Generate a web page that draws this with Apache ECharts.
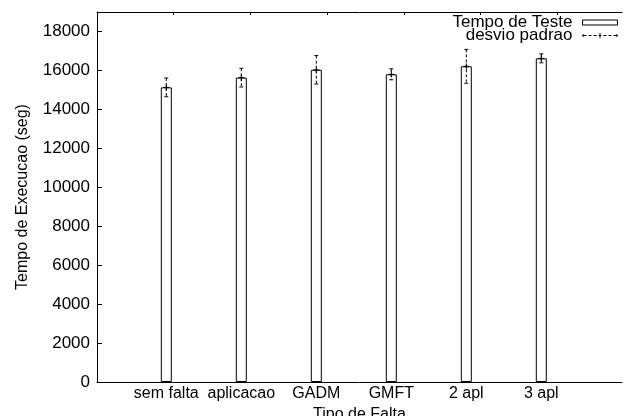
<!DOCTYPE html>
<html>
<head>
<meta charset="utf-8">
<script src="https://cdn.jsdelivr.net/npm/echarts@6/dist/echarts.min.js"></script>
<style>html,body{margin:0;padding:0;background:#fff}#c{width:624px;height:416px}</style>
</head>
<body>
<div id="c"></div>
<script>
const categories = ['sem falta', 'aplicacao', 'GADM', 'GMFT', '2 apl', '3 apl'];
const tempo = [15130, 15630, 16030, 15800, 16210, 16620];
const desvio = [480, 480, 730, 280, 870, 230];
const yTicks = [0, 2000, 4000, 6000, 8000, 10000, 12000, 14000, 16000, 18000];
const topTicks = [1, 2, 3, 4, 5, 6];

const FONT = '"Liberation Sans", Arial, sans-serif';
const idx = categories.map((c, i) => i);
const barData = tempo.map((v, i) => [i, v]);
const errData = tempo.map((v, i) => [i, v, v - desvio[i], v + desvio[i]]);

// legend glyph for the error-bar series: dashed line with end ticks and a plus (35 x 5 frame)
const errIcon = 'path://' +
  'M0,1H1V4H0Z M34,1H35V4H34Z ' +
  'M1,2H4V3H1Z M6,2H9V3H6Z M11,2H14V3H11Z M16,2H19V3H16Z M21,2H24V3H21Z M26,2H29V3H26Z M31,2H34V3H31Z ' +
  'M17,0H18V5H17Z';

const chart = echarts.init(document.getElementById('c'), null, {renderer: 'canvas'});
chart.setOption({
  animation: false,
  backgroundColor: '#fff',
  grid: {left: 97, right: 2, top: 12, bottom: 34, containLabel: false, outerBoundsMode: 'none'},
  legend: {
    orient: 'vertical', right: 6, top: 14, align: 'right', padding: 0,
    itemWidth: 35, itemHeight: 5, itemGap: -4,
    textStyle: {fontFamily: FONT, fontSize: 17, color: '#000', padding: [0, 5, 0, 0]},
    data: [
      {name: 'Tempo de Teste', icon: 'rect', itemStyle: {color: '#fff', borderColor: '#000', borderWidth: 1}},
      {name: 'desvio padrao', icon: errIcon, itemStyle: {color: '#000', borderWidth: 0}}
    ]
  },
  xAxis: [{
    type: 'value', position: 'bottom',
    min: -0.924, max: 6.076,
    splitLine: {show: false},
    axisLine: {show: true, onZero: false, lineStyle: {color: '#000', width: 1}},
    axisTick: {show: false},
    axisLabel: {
      customValues: idx, margin: 4,
      fontFamily: FONT, fontSize: 16, color: '#000',
      formatter: v => categories[Math.round(v)] || ''
    },
    name: 'Tipo de Falta', nameLocation: 'middle', nameGap: 22,
    nameTextStyle: {fontFamily: FONT, fontSize: 16, color: '#000', verticalAlign: 'top'}
  }, {
    type: 'value', position: 'top',
    min: 0, max: 6.845,
    splitLine: {show: false},
    axisLine: {show: true, onZero: false, lineStyle: {color: '#000', width: 1}},
    axisTick: {show: true, inside: true, length: 3, customValues: topTicks, lineStyle: {color: '#000'}},
    axisLabel: {show: false}
  }],
  yAxis: {
    type: 'value', min: 0, max: 19000,
    splitLine: {show: false},
    axisLine: {show: true, onZero: false, lineStyle: {color: '#000', width: 1}},
    axisTick: {show: true, inside: true, length: 5, customValues: yTicks, lineStyle: {color: '#000'}},
    axisLabel: {customValues: yTicks, margin: 7, fontFamily: FONT, fontSize: 17, color: '#000',
      formatter: v => String(v)},
    name: 'Tempo de Execucao (seg)', nameLocation: 'middle', nameGap: 66, nameRotate: 90,
    nameTextStyle: {fontFamily: FONT, fontSize: 16, color: '#000'}
  },
  series: [{
    name: 'Tempo de Teste', type: 'bar', xAxisIndex: 0, z: 2,
    barWidth: 11,
    itemStyle: {color: '#fff', borderColor: '#000', borderWidth: 1},
    data: barData
  }, {
    name: 'desvio padrao', type: 'custom', xAxisIndex: 0, z: 5,
    itemStyle: {color: '#000'},
    data: errData,
    renderItem: function (params, api) {
      const x = api.value(0);
      const c = api.coord([x, api.value(1)]);
      const lo = api.coord([x, api.value(2)]);
      const hi = api.coord([x, api.value(3)]);
      const st = {stroke: '#000', lineWidth: 1, fill: null};
      return {
        type: 'group',
        children: [
          {type: 'line', shape: {x1: c[0], y1: hi[1], x2: c[0], y2: lo[1]}, style: Object.assign({lineDash: [3, 2]}, st)},
          {type: 'line', shape: {x1: c[0] - 2, y1: hi[1], x2: c[0] + 2, y2: hi[1]}, style: st},
          {type: 'line', shape: {x1: c[0] - 2, y1: lo[1], x2: c[0] + 2, y2: lo[1]}, style: st},
          {type: 'line', shape: {x1: c[0] - 3, y1: c[1], x2: c[0] + 3, y2: c[1]}, style: st},
          {type: 'line', shape: {x1: c[0], y1: c[1] - 3, x2: c[0], y2: c[1] + 3}, style: st}
        ]
      };
    }
  }]
});
</script>
</body>
</html>
